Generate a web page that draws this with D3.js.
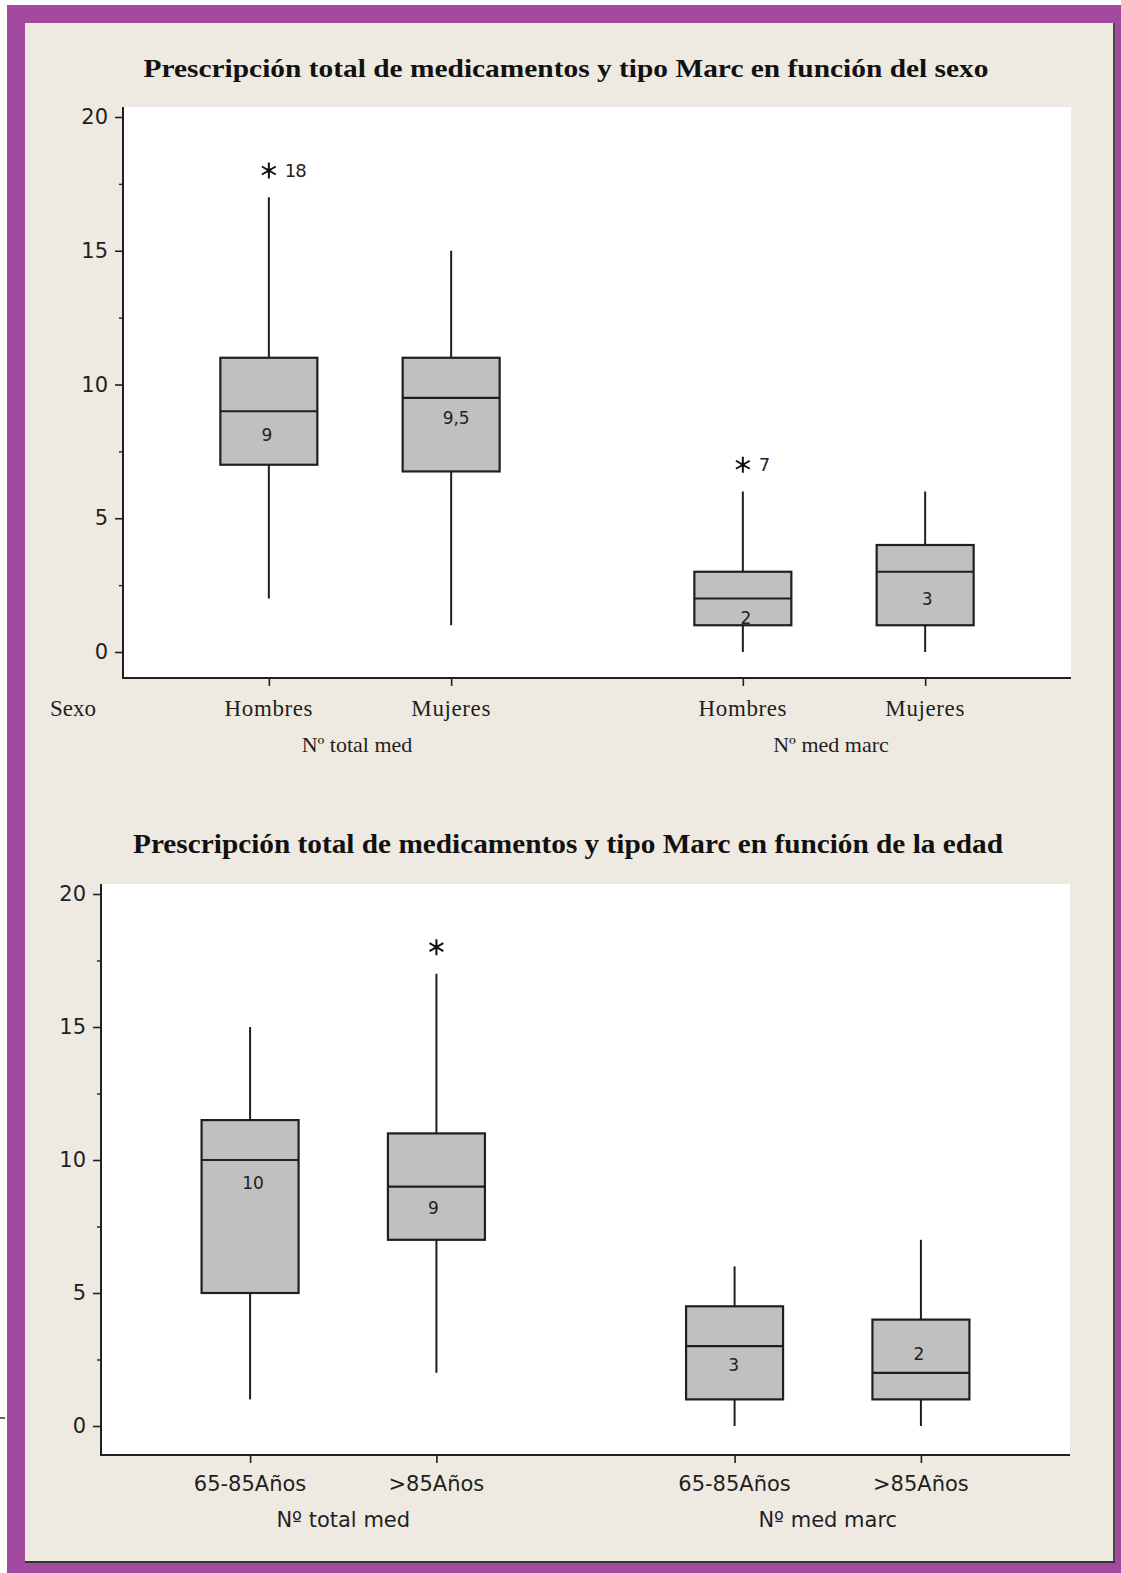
<!DOCTYPE html>
<html>
<head>
<meta charset="utf-8">
<script src="https://cdn.jsdelivr.net/npm/d3@7"></script>
<style>
  html, body { margin: 0; padding: 0; background: #ffffff; }
  svg { display: block; }
</style>
</head>
<body>
<svg id="chart" width="1121" height="1573"></svg>
<script>
// ---- Data -------------------------------------------------------------
const variableNames = ["Nº total med", "Nº med marc"];
const sexCategories = ["Hombres", "Mujeres"];
const ageCategories = ["65-85Años", ">85Años"];
const yTicks = [0, 5, 10, 15, 20];
const yMinorTicks = [2.5, 7.5, 12.5, 17.5];

const titleSex = "Prescripción total de medicamentos y tipo Marc en función del sexo";
const titleAge = "Prescripción total de medicamentos y tipo Marc en función de la edad";

// Box order: total med (cat 1, cat 2), med marc (cat 1, cat 2)
const sexLow     = [2, 1, 0, 0];
const sexQ1      = [7, 6.75, 1, 1];
const sexMedian  = [9, 9.5, 2, 3];
const sexQ3      = [11, 11, 3, 4];
const sexHigh    = [17, 15, 6, 6];
const sexOutliers      = [[18], [], [7], []];
const sexOutlierLabels = [["18"], [], ["7"], []];

const ageLow     = [1, 2, 0, 0];
const ageQ1      = [5, 7, 1, 1];
const ageMedian  = [10, 9, 3, 2];
const ageQ3      = [11.5, 11, 4.5, 4];
const ageHigh    = [15, 17, 6, 7];
const ageOutliers      = [[], [18], [], []];
const ageOutlierLabels = [[], [], [], []];

// ---- Page frame -------------------------------------------------------
const svg = d3.select("#chart");
const W = 1121, H = 1573;
const INK = "#1f1f1f";
const SERIF = "'Liberation Serif', 'Times New Roman', serif";
const SANS = "'DejaVu Sans', Verdana, sans-serif";

svg.append("rect").attr("x", 0).attr("y", 0).attr("width", W).attr("height", H).attr("fill", "#ffffff");
svg.append("rect").attr("x", 7).attr("y", 5).attr("width", W - 7).attr("height", H - 5).attr("fill", "#a3499f");
svg.append("rect").attr("x", 25).attr("y", 23).attr("width", 1089).attr("height", 1538).attr("fill", "#efeae1");
// drop shadow on the right and bottom edge of the card
svg.append("line").attr("x1", 1114).attr("x2", 1114).attr("y1", 23).attr("y2", 1562)
  .attr("stroke", "#4a4a4a").attr("stroke-width", 2);
svg.append("line").attr("x1", 25).attr("x2", 1115).attr("y1", 1562).attr("y2", 1562)
  .attr("stroke", "#333333").attr("stroke-width", 2);
svg.append("line").attr("x1", 0).attr("x2", 5).attr("y1", 1418).attr("y2", 1418)
  .attr("stroke", "#333333").attr("stroke-width", 1.5);

// ---- One boxplot panel -------------------------------------------------
function drawPanel(cfg) {
  const g = svg.append("g");
  const { left, top, right, bottom } = cfg.plot;

  g.append("text")
    .attr("x", cfg.titleX).attr("y", cfg.titleY)
    .attr("text-anchor", "middle")
    .attr("font-family", SERIF).attr("font-weight", "bold")
    .attr("font-size", cfg.titleSize)
    .attr("textLength", cfg.titleLength).attr("lengthAdjust", "spacingAndGlyphs")
    .attr("fill", "#111")
    .text(cfg.title);

  g.append("rect").attr("x", left).attr("y", top)
    .attr("width", right - left).attr("height", bottom - top).attr("fill", "#ffffff");

  const y = d3.scaleLinear().domain([0, 20]).range(cfg.yRange);
  const outer = d3.scaleBand().domain(variableNames).range([left, right]);
  const inner = d3.scalePoint().domain(cfg.categories).range([0, outer.bandwidth()]).padding(0.8);

  const keys = [];
  const xs = [];
  variableNames.forEach(v => cfg.categories.forEach(c => {
    keys.push(v + "|" + c);
    xs.push(outer(v) + inner(c));
  }));
  const x = d3.scaleOrdinal().domain(keys).range(xs);

  // y axis: major and minor ticks, line drawn across the full plot height
  const yAxis = g.append("g").attr("transform", `translate(${left},0)`)
    .call(d3.axisLeft(y).tickValues(yTicks).tickSize(8).tickPadding(7).tickFormat(d3.format("d")));
  yAxis.select(".domain").remove();
  yAxis.selectAll("line").attr("stroke", INK).attr("stroke-width", 1.6);
  yAxis.selectAll("text").attr("font-family", SANS).attr("font-size", 21).attr("fill", INK);

  const yMinor = g.append("g").attr("transform", `translate(${left},0)`)
    .call(d3.axisLeft(y).tickValues(yMinorTicks).tickSize(4).tickFormat(""));
  yMinor.select(".domain").remove();
  yMinor.selectAll("line").attr("stroke", INK).attr("stroke-width", 1.4);

  g.append("line").attr("x1", left).attr("x2", left).attr("y1", top).attr("y2", bottom + 1)
    .attr("stroke", INK).attr("stroke-width", 2);

  // x axis with one tick per category in each variable group
  const xAxis = g.append("g").attr("transform", `translate(0,${bottom})`)
    .call(d3.axisBottom(x).tickSize(8).tickFormat(""));
  xAxis.select(".domain").remove();
  xAxis.selectAll("line").attr("stroke", INK).attr("stroke-width", 1.6);
  g.append("line").attr("x1", left).attr("x2", right).attr("y1", bottom).attr("y2", bottom)
    .attr("stroke", INK).attr("stroke-width", 2);

  keys.forEach((k, i) => {
    g.append("text")
      .attr("x", xs[i]).attr("y", bottom + cfg.catLabelDy)
      .attr("text-anchor", "middle")
      .attr("font-family", cfg.labelFont).attr("font-size", cfg.catLabelSize)
      .attr("letter-spacing", cfg.catLetterSpacing)
      .attr("fill", INK)
      .text(k.split("|")[1]);
  });
  variableNames.forEach(v => {
    g.append("text")
      .attr("x", outer(v) + outer.bandwidth() / 2 + cfg.groupLabelDx).attr("y", bottom + cfg.groupLabelDy)
      .attr("text-anchor", "middle")
      .attr("font-family", cfg.labelFont).attr("font-size", cfg.groupLabelSize)
      .attr("fill", INK)
      .text(v);
  });
  if (cfg.factorName) {
    g.append("text")
      .attr("x", 50).attr("y", bottom + cfg.catLabelDy)
      .attr("font-family", cfg.labelFont).attr("font-size", cfg.catLabelSize)
      .attr("fill", INK)
      .text(cfg.factorName);
  }

  // boxes
  const boxW = 97;
  const fmt = v => String(v).replace(".", ",");
  keys.forEach((k, i) => {
    const cx = xs[i];
    const d = cfg.stats;
    g.append("line").attr("x1", cx).attr("x2", cx)
      .attr("y1", y(d.low[i])).attr("y2", y(d.q1[i]))
      .attr("stroke", INK).attr("stroke-width", 2);
    g.append("line").attr("x1", cx).attr("x2", cx)
      .attr("y1", y(d.q3[i])).attr("y2", y(d.high[i]))
      .attr("stroke", INK).attr("stroke-width", 2);
    g.append("rect")
      .attr("x", cx - boxW / 2).attr("y", y(d.q3[i]))
      .attr("width", boxW).attr("height", y(d.q1[i]) - y(d.q3[i]))
      .attr("fill", "#c0c0c0").attr("stroke", INK).attr("stroke-width", 2.2);
    g.append("line")
      .attr("x1", cx - boxW / 2).attr("x2", cx + boxW / 2)
      .attr("y1", y(d.median[i])).attr("y2", y(d.median[i]))
      .attr("stroke", INK).attr("stroke-width", 2.2);
    g.append("text")
      .attr("x", cx + cfg.medianLabelDx[i]).attr("y", y(d.median[i]) + cfg.medianLabelDy[i])
      .attr("dy", "0.35em")
      .attr("text-anchor", "middle")
      .attr("font-family", SANS).attr("font-size", 17)
      .attr("fill", "#222")
      .text(fmt(d.median[i]));

    d.outliers[i].forEach((o, j) => {
      const oy = y(o);
      g.append("path")
        .attr("transform", `translate(${cx},${oy})`)
        .attr("d", d3.symbol(d3.symbolAsterisk, 180)())
        .attr("fill", "none").attr("stroke", "#111").attr("stroke-width", 2);
      g.append("circle").attr("cx", cx).attr("cy", oy).attr("r", 2.2).attr("fill", "#111");
      const lbl = d.outlierLabels[i][j];
      if (lbl) {
        g.append("text")
          .attr("x", cx + 16).attr("y", oy).attr("dy", "0.36em")
          .attr("font-family", SANS).attr("font-size", 18)
          .attr("letter-spacing", -1)
          .attr("fill", "#222")
          .text(lbl);
      }
    });
  });
}

drawPanel({
  title: titleSex, titleX: 566, titleY: 77, titleSize: 26, titleLength: 845,
  plot: { left: 123, top: 107, right: 1071, bottom: 678 },
  yRange: [652, 117],
  categories: sexCategories,
  factorName: "Sexo",
  labelFont: SERIF, catLabelSize: 23, catLetterSpacing: 0.6, catLabelDy: 38,
  groupLabelSize: 22, groupLabelDy: 74, groupLabelDx: -3,
  medianLabelDy: [24, 20, 20, 27],
  medianLabelDx: [-2, 5, 3, 2],
  stats: { low: sexLow, q1: sexQ1, median: sexMedian, q3: sexQ3, high: sexHigh,
           outliers: sexOutliers, outlierLabels: sexOutlierLabels }
});

drawPanel({
  title: titleAge, titleX: 568, titleY: 853, titleSize: 28, titleLength: 870,
  plot: { left: 101, top: 884, right: 1070, bottom: 1455 },
  yRange: [1426, 894],
  categories: ageCategories,
  factorName: null,
  labelFont: SANS, catLabelSize: 21, catLetterSpacing: 0, catLabelDy: 36,
  groupLabelSize: 21, groupLabelDy: 72, groupLabelDx: 0,
  medianLabelDy: [23, 21, 19, -19],
  medianLabelDx: [3, -3, -1, -2],
  stats: { low: ageLow, q1: ageQ1, median: ageMedian, q3: ageQ3, high: ageHigh,
           outliers: ageOutliers, outlierLabels: ageOutlierLabels }
});
</script>
</body>
</html>
